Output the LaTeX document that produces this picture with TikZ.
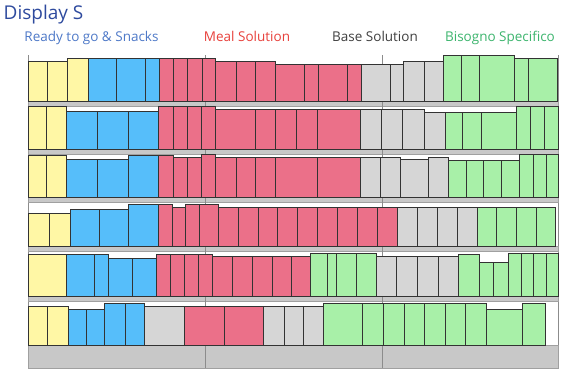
\documentclass[tikz,border=0pt]{standalone}
\usepackage{fontspec}
\setmainfont{Open Sans}
\definecolor{cY}{HTML}{FFF7A5}
\definecolor{cB}{HTML}{56BEFA}
\definecolor{cR}{HTML}{EB7089}
\definecolor{cN}{HTML}{D6D6D6}
\definecolor{cG}{HTML}{A8F0A8}
\definecolor{bar}{HTML}{C8C8C8}
\definecolor{barline}{HTML}{A0A0A0}
\definecolor{frameline}{HTML}{8C8C8C}
\definecolor{titleblue}{HTML}{2E4A9E}
\definecolor{lgBlue}{HTML}{4E79C8}
\definecolor{lgRed}{HTML}{E8413C}
\definecolor{lgGray}{HTML}{404040}
\definecolor{lgGreen}{HTML}{3DB56E}
\newcommand\shelfrow[2]{\foreach \a/\b/\t/\c in {#2} {\draw[sku,fill=\c] (\a,#1) rectangle (\b,\t);}}
\begin{document}
\begin{tikzpicture}[x=1pt,y=-1pt,
  sku/.style={draw=black!80,line width=0.6pt},
  shelfbar/.style={fill=bar,draw=barline,line width=0.6pt},
  frame/.style={draw=frameline,line width=1pt},
  legend/.style={font=\fontsize{13.5}{14}\selectfont,anchor=base}]
\useasboundingbox (0,0) rectangle (575,370);
\fill[white] (0,0) rectangle (575,370);
% title
\node[anchor=base west,inner sep=0pt,text=titleblue,font=\fontsize{19}{20}\selectfont] (title) at (3.5,19.3) {Display S};
% legend
\node[legend,text=lgBlue] (l1) at (91.5,41) {Ready to go \& Snacks};
\node[legend,text=lgRed] (l2) at (247,41) {Meal Solution};
\node[legend,text=lgGray] (l3) at (375,41) {Base Solution};
\node[legend,text=lgGreen] (l4) at (500,41) {Bisogno Specifico};
% frame verticals
\draw[frame] (28,55) -- (28,368);
\draw[frame] (558.5,55) -- (558.5,368);
\draw[frame] (205,55) -- (205,368);
\draw[frame] (382.3,55) -- (382.3,368);
% shelves
\foreach \y in {101,149,197,246.7,296} {\draw[shelfbar] (28,\y) rectangle (558.5,\y+4.8);}
\draw[shelfbar] (28,345.7) rectangle (558.5,368);
\draw[frame] (205,101) -- (205,368);
\draw[frame] (382.3,101) -- (382.3,368);
% row 1
\shelfrow{101}{28/47.3/61/cY,47.3/67.3/61/cY,67.3/88.3/58.3/cY,88.3/116.7/58.3/cB,116.7/145/58.3/cB,145/159/58.3/cB,159/173.3/58.3/cR,173.3/187.3/58.3/cR,187.3/202/58.3/cR,202/215.7/58.3/cR,215.7/236/61.5/cR,236/255.7/61.5/cR,255.7/275.5/61.5/cR,275.5/304.3/64/cR,304.3/318.3/64/cR,318.3/347.7/64/cR,347.7/361.7/64/cR,361.7/390/64/cN,390/403.7/64/cN,403.7/424/61.7/cN,424/443.7/61.7/cN,443.7/461.3/55/cG,461.3/479/55/cG,479/514.7/55/cG,514.7/528.7/58.3/cG,528.7/557.7/58.3/cG}
% row 2
\shelfrow{149}{28/46.7/106.7/cY,46.7/66/106.7/cY,66/97.3/111.7/cB,97.3/128.3/111.7/cB,128.3/158.3/111.7/cB,158.3/173.3/106.7/cR,173.3/187.3/106.7/cR,187.3/201.7/106.7/cR,201.7/215.7/106.7/cR,215.7/255.7/109.5/cR,255.7/275.3/109.5/cR,275.3/296.7/109.5/cR,296.7/317.7/109.5/cR,317.7/360.3/109.5/cR,360.3/381.7/109.3/cN,381.7/402.7/109.3/cN,402.7/424/109.3/cN,424/445/112.7/cN,445/462.7/112.7/cG,462.7/481/112.7/cG,481/516.3/112.7/cG,516.3/530.3/106.7/cG,530.3/544.7/106.7/cG,544.7/558.3/106.7/cG}
% row 3
\shelfrow{197}{28/46.7/155/cY,46.7/66/155/cY,66/97.3/159.3/cB,97.3/128.3/159.3/cB,128.3/158.7/155/cB,158.7/173.3/155/cR,173.3/187.3/157.3/cR,187.3/201.7/157.3/cR,201.7/215.7/154.3/cR,215.7/236/157.3/cR,236/255.7/157.3/cR,255.7/275.3/157.3/cR,275.3/317.7/157.3/cR,317.7/360.3/157.3/cR,360.3/380/157.3/cN,380/400/157.3/cN,400/428.7/159/cN,428.7/448/157.3/cN,448/466/160.7/cG,466/483.7/160.7/cG,483.7/501.7/160.7/cG,501.7/519.3/160.7/cG,519.3/533.7/154.7/cG,533.7/546.7/154.7/cG,546.7/558.5/154.7/cG}
% row 4
\shelfrow{246.7}{28/49/213.3/cY,49/70/213.3/cY,70/99.3/209.3/cB,99.3/128.7/209.3/cB,128.7/158.3/204.3/cB,158.3/172/204.3/cR,172/185.3/207.3/cR,185.3/199.3/204.3/cR,199.3/218.7/204.3/cR,218.7/238.3/207.3/cR,238.3/258/207.3/cR,258/277.7/207.3/cR,277.7/297.7/207.3/cR,297.7/317.7/207.3/cR,317.7/337.7/207.3/cR,337.7/357.7/207.3/cR,357.7/377.7/207.3/cR,377.7/397.3/207.3/cR,397.3/417.3/207.3/cN,417.3/437.7/207.3/cN,437.7/457.3/207.3/cN,457.3/477.3/207.3/cN,477.3/496.7/207.3/cG,496.7/516.7/207.3/cG,516.7/536/207.3/cG,536/555/207.3/cG}
% row 5
\shelfrow{296}{28/66.7/254/cY,66.7/94.3/254/cB,94.3/108.3/254/cB,108.3/132.3/258.3/cB,132.3/156/258.3/cB,156/170.7/254/cR,170.7/184.3/254/cR,184.3/198.3/254/cR,198.3/212.7/254/cR,212.7/232.7/256.7/cR,232.7/252.7/256.7/cR,252.7/272.3/256.7/cR,272.3/291.7/256.7/cR,291.7/310/256.7/cR,310/327.3/253.3/cG,327.3/336.7/253.3/cG,336.7/356.7/253.3/cG,356.7/376/253.3/cG,376/396.7/256.7/cN,396.7/417.7/256.7/cN,417.7/438.3/256.7/cN,438.3/458.7/256.7/cN,458.7/479/254/cG,479/493.3/262.3/cG,493.3/508/262.3/cG,508/521/253.3/cG,521/533.7/253.3/cG,533.7/546/253.3/cG,546/558.3/253.3/cG}
% row 6
\shelfrow{345.7}{28/47.7/306/cY,47.7/68.3/306/cY,68.3/86.3/309.3/cB,86.3/104.3/309.3/cB,104.3/125/303.3/cB,125/144.7/303.3/cB,144.7/184.7/306/cN,184.7/224.3/306/cR,224.3/263.3/306/cR,263.3/284.3/306/cN,284.3/303.3/306/cN,303.3/323.7/306/cN,323.7/362.7/303.3/cG,362.7/383.3/303.3/cG,383.3/404/303.3/cG,404/424.7/303.3/cG,424.7/445.3/303.3/cG,445.3/465.7/303.3/cG,465.7/486/303.3/cG,486/522.7/309.3/cG,522.7/545.3/303.3/cG}
\end{tikzpicture}
\end{document}
